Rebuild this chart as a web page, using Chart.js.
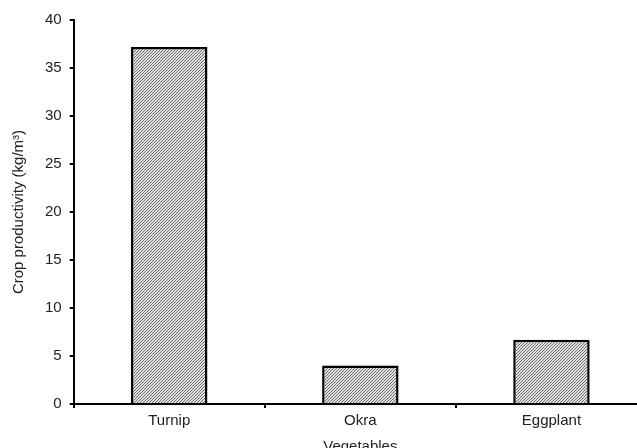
<!DOCTYPE html>
<html>
<head>
<meta charset="utf-8">
<script src="https://cdn.jsdelivr.net/npm/chart.js@4"></script>
<style>
  html, body { margin: 0; padding: 0; background: #fff; overflow: hidden; }
  #wrap { width: 650px; height: 460px; }
</style>
</head>
<body>
<div id="wrap"><canvas id="cropChart" width="650" height="460"></canvas></div>
<script>
const vegetables = ['Turnip', 'Okra', 'Eggplant'];
const productivity = [37.2, 4.0, 6.7];
const yTicks = [0, 5, 10, 15, 20, 25, 30, 35, 40];

// hatched grey fill like the original figure
function makeHatch() {
    const tile = document.createElement('canvas');
    tile.width = 3;
    tile.height = 3;
    const c = tile.getContext('2d');
    c.fillStyle = '#e2e2e2';
    c.fillRect(0, 0, 3, 3);
    c.fillStyle = '#6a6a6a';
    // one pixel per row, stepping diagonally
    c.fillRect(2, 0, 1, 1);
    c.fillRect(1, 1, 1, 1);
    c.fillRect(0, 2, 1, 1);
    return c.createPattern(tile, 'repeat');
}

document.addEventListener('DOMContentLoaded', () => {
    const ctx = document.getElementById('cropChart').getContext('2d');
    const font = { family: 'Liberation Sans, Arial, sans-serif', size: 15 };

    new Chart(ctx, {
        type: 'bar',
        data: {
            labels: vegetables,
            datasets: [{
                data: productivity,
                backgroundColor: makeHatch(),
                borderColor: '#000',
                borderWidth: 2.5,
                borderSkipped: 'bottom',
                categoryPercentage: 0.8,
                barPercentage: 0.5
            }]
        },
        options: {
            responsive: false,
            animation: false,
            layout: { padding: { top: 20, right: 3, left: 6, bottom: 0 } },
            plugins: { legend: { display: false }, tooltip: { enabled: false } },
            scales: {
                x: {
                    grid: { drawOnChartArea: false, drawTicks: true, tickLength: 4, color: '#000', lineWidth: 2 },
                    border: { color: '#000', width: 2 },
                    ticks: { color: '#222', font: font, padding: 4 },
                    title: { display: true, text: 'Vegetables', color: '#222', font: font, padding: { top: 4 } }
                },
                y: {
                    min: 0,
                    max: 40,
                    afterBuildTicks: axis => { axis.ticks = yTicks.map(v => ({ value: v })); },
                    grid: { drawOnChartArea: false, drawTicks: true, tickLength: 4, color: '#000', lineWidth: 2 },
                    border: { color: '#000', width: 2 },
                    ticks: { color: '#222', font: font, padding: 8 },
                    title: { display: true, text: 'Crop productivity (kg/m³)', color: '#222', font: font, padding: { bottom: 9 } }
                }
            }
        }
    });
});
</script>
</body>
</html>
